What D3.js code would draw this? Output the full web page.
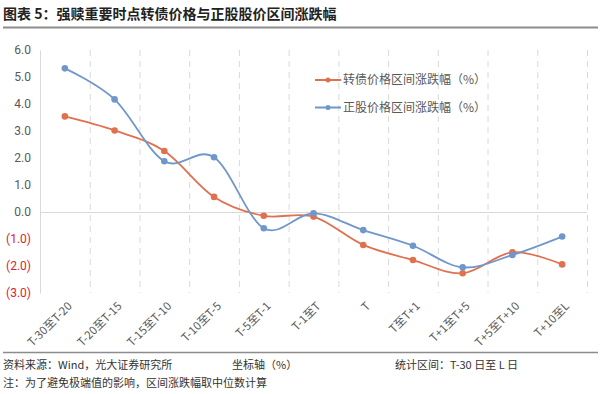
<!DOCTYPE html>
<html>
<head>
<meta charset="utf-8">
<script src="https://cdn.jsdelivr.net/npm/d3@7"></script>
<style>
  body { margin: 0; background: #fff; }
  svg { font-family: "Noto Sans CJK SC", "Noto Sans", sans-serif; }
</style>
</head>
<body>
<div id="chart"></div>
<script>
// chart data
const periods = ["T-30至T-20", "T-20至T-15", "T-15至T-10", "T-10至T-5", "T-5至T-1", "T-1至T",
                 "T", "T至T+1", "T+1至T+5", "T+5至T+10", "T+10至L"];
const bondChange = [3.54, 3.02, 2.26, 0.56, -0.14, -0.17, -1.22, -1.78, -2.27, -1.49, -1.94];
const stockChange = [5.32, 4.17, 1.88, 2.03, -0.60, -0.05, -0.67, -1.25, -2.05, -1.59, -0.91];
const yTicks = [6, 5, 4, 3, 2, 1, 0, -1, -2, -3];
const seriesNames = ["转债价格区间涨跌幅（%）", "正股价格区间涨跌幅（%）"];

const W = 602, H = 394;
const margin = {top: 50, right: 15, bottom: 101, left: 40};
const plotW = W - margin.left - margin.right;
const plotH = H - margin.top - margin.bottom;

const svg = d3.select("#chart").append("svg")
    .attr("width", W)
    .attr("height", H);

// title + rules
svg.append("text")
    .attr("x", 3).attr("y", 19)
    .attr("font-size", 14).attr("font-weight", "bold")
    .attr("fill", "#222")
    .text("图表 5：强赎重要时点转债价格与正股股价区间涨跌幅");
svg.append("line")
    .attr("x1", 3).attr("x2", 598).attr("y1", 27.5).attr("y2", 27.5)
    .attr("stroke", "#8c8c8c").attr("stroke-width", 2);
svg.append("line")
    .attr("x1", 3).attr("x2", 598).attr("y1", 352.5).attr("y2", 352.5)
    .attr("stroke", "#8c8c8c").attr("stroke-width", 1.5);

// footer
const foot = svg.append("g").attr("font-size", 11).attr("fill", "#333");
foot.append("text").attr("x", 3).attr("y", 369).text("资料来源：Wind，光大证券研究所");
foot.append("text").attr("x", 232).attr("y", 369).text("坐标轴（%）");
foot.append("text").attr("x", 395).attr("y", 369).text("统计区间：T-30 日至 L 日");
foot.append("text").attr("x", 3).attr("y", 387).text("注：为了避免极端值的影响，区间涨跌幅取中位数计算");

const g = svg.append("g")
    .attr("transform", `translate(${margin.left},${margin.top})`);

// scales
const x = d3.scaleBand().domain(periods).range([0, plotW]);
const y = d3.scaleLinear().domain([-3, 6]).range([plotH, 0]);

// vertical dashed grid at band edges
g.append("g")
    .selectAll("line")
    .data(periods)
    .join("line")
    .attr("x1", d => x(d) + x.bandwidth() + 0.5)
    .attr("x2", d => x(d) + x.bandwidth() + 0.5)
    .attr("y1", 0).attr("y2", plotH)
    .attr("stroke", "#d9d9d9")
    .attr("stroke-dasharray", "6,5");

// y axis
const yAxis = g.append("g")
    .call(d3.axisLeft(y).tickValues(yTicks).tickSize(0).tickPadding(9)
        .tickFormat(d => d < 0 ? `(${d3.format(".1f")(-d)})` : d3.format(".1f")(d)));
yAxis.select(".domain").attr("stroke", "#d9d9d9");
yAxis.selectAll("text")
    .attr("font-size", 12)
    .attr("font-family", "Roboto, sans-serif")
    .attr("fill", d => d < 0 ? "#e0202f" : "#595959");

// zero line
g.append("line")
    .attr("x1", 0).attr("x2", plotW)
    .attr("y1", Math.round(y(0)) + 0.5).attr("y2", Math.round(y(0)) + 0.5)
    .attr("stroke", "#d9d9d9");

// x labels
g.append("g")
    .selectAll("text")
    .data(periods)
    .join("text")
    .attr("transform", d => `translate(${x(d) + x.bandwidth() / 2 + 5},${plotH + 11}) rotate(-45)`)
    .attr("text-anchor", "end")
    .attr("dy", "0.35em")
    .attr("font-size", 11.5)
    .attr("fill", "#595959")
    .text(d => d);

// lines
const line = d3.line()
    .x((d, i) => x(periods[i]) + x.bandwidth() / 2)
    .y(d => y(d))
    .curve(d3.curveCatmullRom.alpha(0));

const series = [
    {name: seriesNames[0], values: bondChange, color: "#e0714f"},
    {name: seriesNames[1], values: stockChange, color: "#7097c9"}
];

series.forEach(s => {
    g.append("path")
        .datum(s.values)
        .attr("fill", "none")
        .attr("stroke", s.color)
        .attr("stroke-width", 1.8)
        .attr("d", line);
    g.append("g")
        .selectAll("circle")
        .data(s.values)
        .join("circle")
        .attr("cx", (d, i) => x(periods[i]) + x.bandwidth() / 2)
        .attr("cy", d => y(d))
        .attr("r", 3.3)
        .attr("fill", s.color);
});

// legend
const legend = g.append("g").attr("transform", "translate(275,30)");
series.forEach((s, i) => {
    const row = legend.append("g").attr("transform", `translate(0,${i * 27.5})`);
    row.append("line").attr("x1", 0).attr("x2", 26).attr("stroke", s.color).attr("stroke-width", 2);
    row.append("circle").attr("cx", 13).attr("r", 2.5).attr("fill", s.color);
    row.append("text").attr("x", 28).attr("dy", "0.35em")
        .attr("font-size", 12).attr("fill", "#595959").text(s.name);
});
</script>
</body>
</html>
